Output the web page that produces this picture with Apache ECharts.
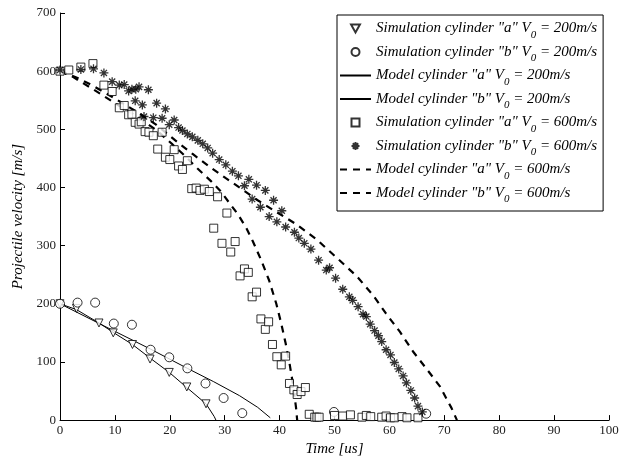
<!DOCTYPE html>
<html><head><meta charset="utf-8">
<script src="https://cdn.jsdelivr.net/npm/echarts@6/dist/echarts.min.js"></script>
<style>html,body{margin:0;padding:0;background:#fff}#c{width:633px;height:462px}</style>
</head><body><div id="c"></div>
<script>
// ---- data ----
const xTickValues = [0,10,20,30,40,50,60,70,80,90,100];
const yTickValues = [0,100,200,300,400,500,600,700];

const seriesNames = [
  'Simulation cylinder "a" V0 = 200m/s',
  'Simulation cylinder "b" V0 = 200m/s',
  'Model cylinder "a" V0 = 200m/s',
  'Model cylinder "b" V0 = 200m/s',
  'Simulation cylinder "a" V0 = 600m/s',
  'Simulation cylinder "b" V0 = 600m/s',
  'Model cylinder "a" V0 = 600m/s',
  'Model cylinder "b" V0 = 600m/s'
];

const simA200 = [[0,200],[3.0,192],[7.1,167],[9.7,150],[13.2,130],[16.4,105],[19.9,82],[23.1,57],[26.6,28]];
const simB200 = [[0,200],[3.2,202],[6.4,202],[9.8,166],[13.1,164],[16.5,121],[19.9,108],[23.2,89],[26.5,63],[29.8,38],[33.2,12],[49.9,14],[66.7,11]];
const modelA200 = [[0,200],[3.0,190],[7.1,167],[10,149],[13.2,130],[16.5,106],[19.9,82],[23.1,56],[26.6,28],[28.1,6],[28.4,0]];
const modelB200 = [[0,200],[8,162],[16.5,122],[23.2,89],[28,66],[32.7,42],[36,22],[38.3,4]];

const simA600 = [[0,600],[1.6,602],[3.8,607],[6.0,613],[8.0,576],[9.5,565],[10.8,537],[11.7,541],[12.5,525],[13.1,526],[13.7,512],[14.4,509],[14.8,513],[15.5,496],[16.2,495],[17.0,489],[17.8,466],[18.6,495],[19.2,452],[20.0,448],[20.8,465],[21.6,437],[22.3,431],[23.2,446],[24.0,398],[24.8,399],[25.5,395],[26.3,397],[27.2,393],[28.0,330],[28.7,384],[29.5,304],[30.4,356],[31.1,289],[31.9,307],[32.8,248],[33.6,260],[34.3,254],[35.0,212],[35.8,220],[36.6,174],[37.4,156],[38.0,169],[38.7,130],[39.5,109],[40.3,95],[41.1,110],[41.8,63],[42.6,52],[43.2,44],[43.9,49],[44.7,56],[45.4,10],[46.4,5],[46.8,5],[47.2,5],[50.0,8],[51.5,7],[52.9,9],[55.0,5],[55.8,8],[56.6,6],[58.6,5],[59.4,7],[60.2,4],[60.9,4],[62.3,6],[63.2,4],[65.2,4]];
const simB600 = [[0,602],[3.8,603],[6.1,604],[8.0,597],[9.5,582],[10.8,576],[11.7,577],[12.5,566],[13.1,569],[13.8,569],[14.4,573],[13.7,549],[15.0,542],[16.1,568],[15.3,522],[17.0,520],[17.6,545],[18.6,519],[19.2,535],[19.9,508],[20.8,516],[21.6,503],[22.3,498],[23.2,492],[24.1,487],[25.1,481],[26.0,475],[26.9,468],[27.8,459],[29.0,448],[30.2,439],[31.4,428],[32.5,420],[33.6,403],[34.4,414],[35.0,380],[35.8,404],[36.5,366],[37.4,395],[38.1,350],[38.9,378],[39.5,341],[40.4,360],[41.1,332],[42.7,323],[43.5,313],[44.5,304],[45.7,294],[47.1,275],[48.5,258],[49.1,262],[50.2,244],[51.5,225],[52.7,212],[53.3,206],[54.3,195],[55.2,182],[55.8,178],[56.5,165],[57.3,154],[58.0,145],[58.6,135],[59.4,121],[60.2,112],[60.9,99],[61.7,88],[62.5,76],[63.1,64],[63.9,51],[64.6,38],[65.2,24],[66.0,14]];
const modelA600 = [[0,600],[2.2,591],[6.2,568],[10,545],[14,522],[17.5,499],[20.5,474],[22.9,453],[25,433],[27.5,411],[29.3,393],[30.8,374],[32.4,354],[33.9,331],[35.1,308],[36.6,276],[38.1,240],[39.4,200],[40.3,166],[41.1,132],[41.8,98],[42.4,64],[43.0,21],[43.2,0]];
const modelB600 = [[0,600],[3,589],[6,575],[10,553],[14,530],[17.5,508],[21,481],[24.1,458],[27.2,436],[30.2,416],[33,398],[36,378],[38.7,362],[43,337],[46.7,311],[50.3,280],[54,248],[57,215],[59.4,183],[61.9,152],[64.3,118],[66.7,89],[69.2,58],[71.3,21],[72.3,0]];

// ---- chart ----
const FONT = "'Liberation Serif','Times New Roman',serif";
const asterisk = 'path://M0,5L10,5M5,0L5,10M1.6,1.6L8.4,8.4M8.4,1.6L1.6,8.4';
const triDown = 'path://M0,0L10,0L5,9Z';
const square = 'path://M0,0L10,0L10,10L0,10Z';
const hollow = {color:'#fff', borderColor:'#000', borderWidth:1};

function scatter(name, data, symbol, size, extra) {
  return Object.assign({
    name, type:'scatter', data, symbol, symbolSize:size,
    itemStyle: Object.assign({}, hollow), z:3, silent:true
  }, extra || {});
}
function line(name, data, dashed) {
  return {
    name, type:'line', data, showSymbol:false, symbol:'none', smooth:false,
    lineStyle: dashed ? {color:'#000', width:2.2, type:[7,6]} : {color:'#000', width:1},
    itemStyle:{color:'#000'}, z:2, silent:true
  };
}

const legendIcons = [triDown, null, 'line', 'line', square, null, 'line', 'line'];
const legendData = seriesNames.map((n,i) => {
  const ic = legendIcons[i];
  if (ic === 'line') return {name:n, itemStyle:{color:'rgba(0,0,0,0)', borderColor:'rgba(0,0,0,0)', borderWidth:0, opacity:0}};
  if (ic) return {name:n, icon:ic};
  return {name:n};
});

const chart = echarts.init(document.getElementById('c'), null, {renderer:'canvas'});
chart.setOption({
  animation:false,
  backgroundColor:'#fff',
  grid:{left:60, right:24, top:13, bottom:40, containLabel:false},
  xAxis:{
    type:'value', min:xTickValues[0], max:xTickValues[xTickValues.length-1], interval:10,
    name:'Time [us]', nameLocation:'middle', nameGap:20,
    nameTextStyle:{fontFamily:FONT, fontStyle:'italic', fontSize:15, color:'#000'},
    axisLine:{lineStyle:{color:'#000', width:1}},
    axisTick:{inside:true, length:5, lineStyle:{color:'#000'}},
    axisLabel:{fontFamily:FONT, fontSize:13, color:'#222', margin:4},
    splitLine:{show:false}
  },
  yAxis:{
    type:'value', min:yTickValues[0], max:yTickValues[yTickValues.length-1], interval:100,
    name:'Projectile velocity [m/s]', nameLocation:'middle', nameGap:33,
    nameTextStyle:{fontFamily:FONT, fontStyle:'italic', fontSize:15, color:'#000'},
    axisLine:{show:true, lineStyle:{color:'#000', width:1}},
    axisTick:{show:true, inside:true, length:5, lineStyle:{color:'#000'}},
    axisLabel:{fontFamily:FONT, fontSize:13, color:'#222', margin:4},
    splitLine:{show:false}
  },
  legend:{
    data: legendData,
    orient:'vertical', left:337, top:15,
    itemWidth:31, itemHeight:8, itemGap:4,
    symbolKeepAspect:true,
    padding:[6,6,6,2],
    borderColor:'#000', borderWidth:1, backgroundColor:'#fff',
    selectedMode:false,
    formatter: n => n.replace('V0', 'V{sub|0}'),
    textStyle:{
      fontFamily:FONT, fontStyle:'italic', fontSize:15, color:'#000',
      rich:{
        sub:{fontFamily:FONT, fontStyle:'italic', fontSize:11, color:'#000', verticalAlign:'bottom', lineHeight:24}
      }
    }
  },
  series:[
    scatter(seriesNames[0], simA200, 'triangle', 8, {symbolRotate:180}),
    scatter(seriesNames[1], simB200, 'circle', 9),
    line(seriesNames[2], modelA200, false),
    line(seriesNames[3], modelB200, false),
    scatter(seriesNames[4], simA600, 'rect', 8),
    scatter(seriesNames[5], simB600, asterisk, 9, {itemStyle:{color:'none', borderColor:'#000', borderWidth:1.3}}),
    line(seriesNames[6], modelA600, true),
    line(seriesNames[7], modelB600, true)
  ]
});
</script></body></html>
